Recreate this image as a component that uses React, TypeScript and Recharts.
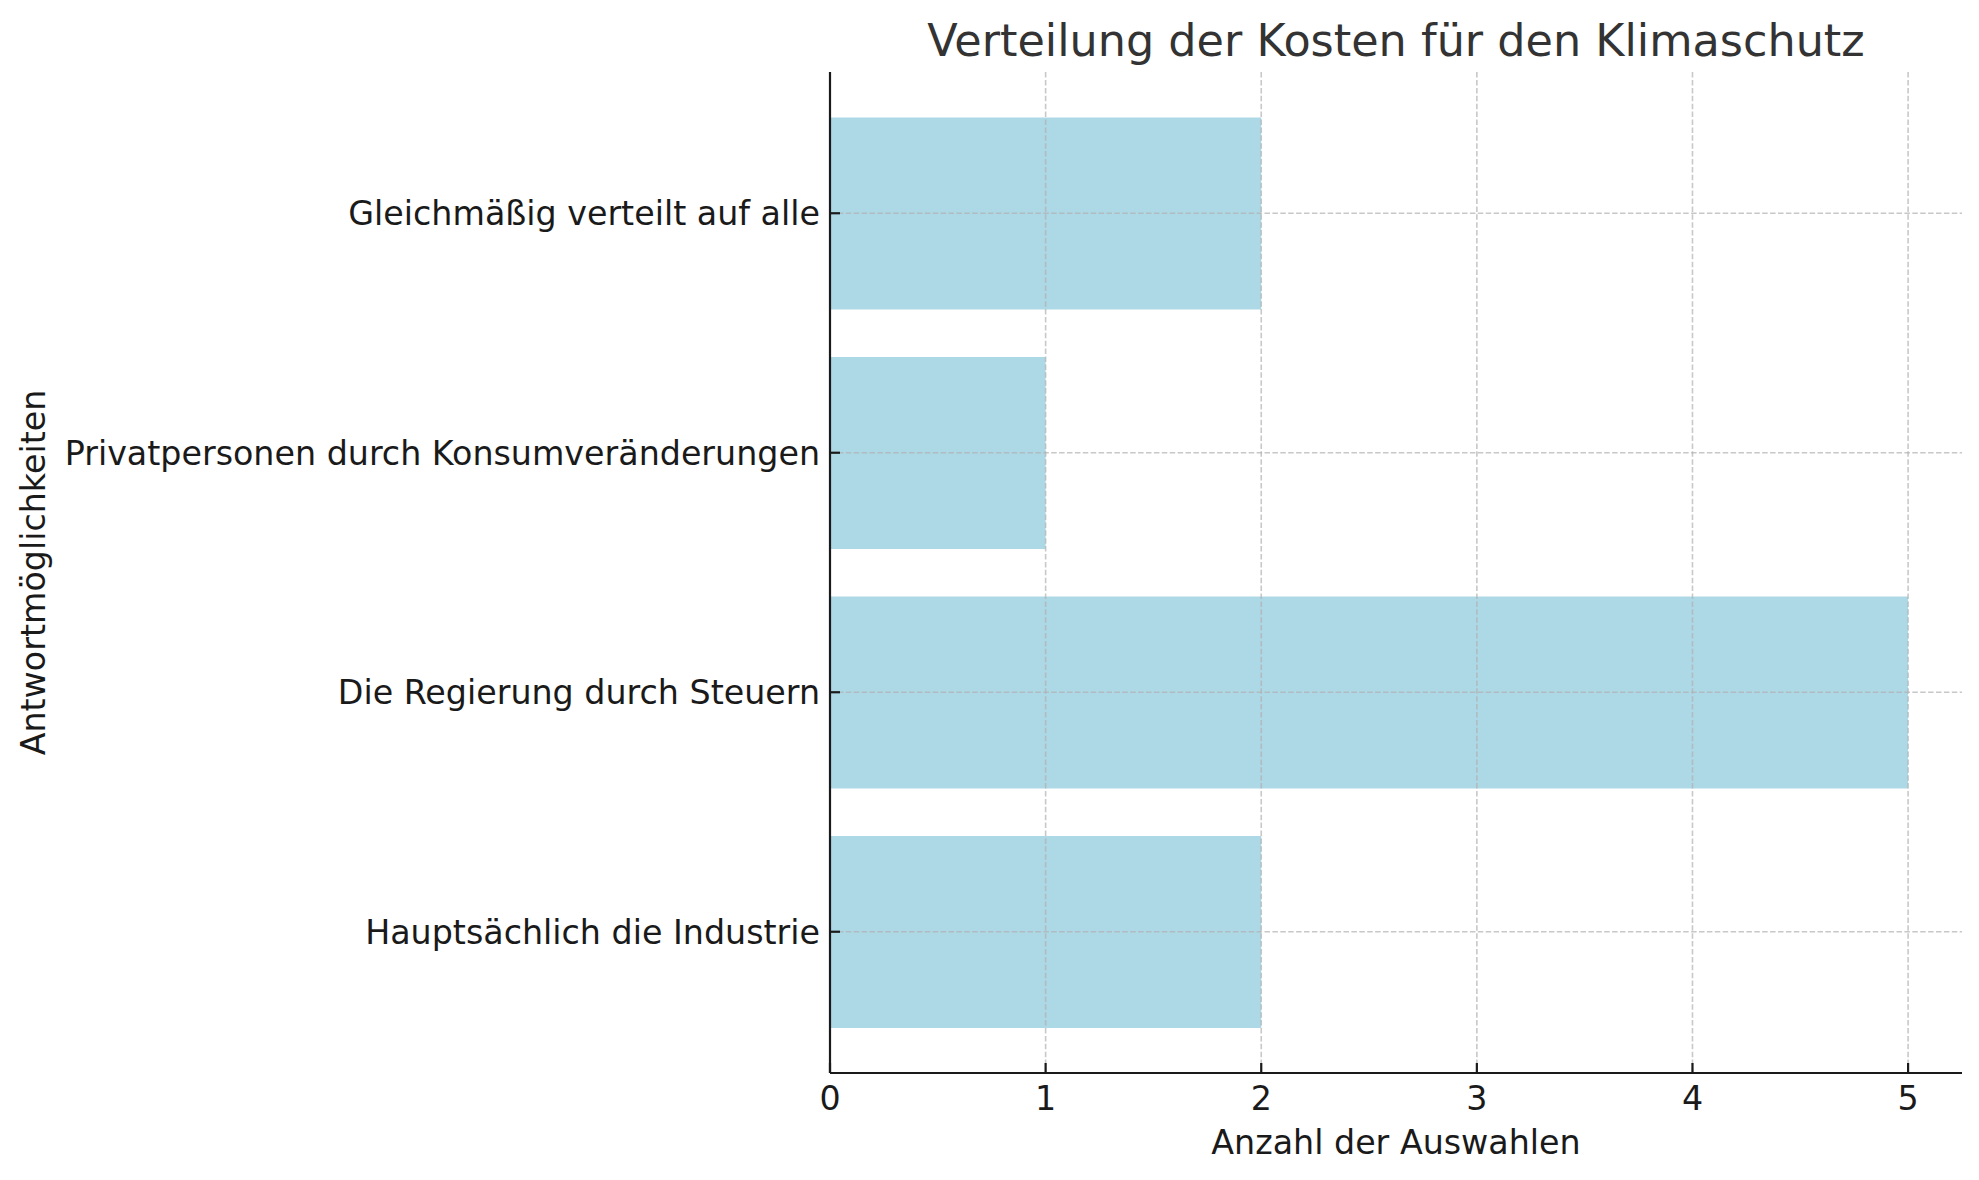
import { Bar, BarChart, Label, ReferenceLine, XAxis, YAxis } from "recharts";

const categories = [
  "Gleichmäßig verteilt auf alle",
  "Privatpersonen durch Konsumveränderungen",
  "Die Regierung durch Steuern",
  "Hauptsächlich die Industrie",
];
const counts = [2, 1, 5, 2];
const xTicks = [0, 1, 2, 3, 4, 5];
const gridX = [1, 2, 3, 4, 5];

const chartData = categories.map((name, i) => ({ name, count: counts[i] }));

const font = "DejaVu Sans";
const ink = "#1a1a1a";
const fs = 33.3;

const XTick = (props: any) => {
  const { x, y, payload } = props;
  return (
    <g>
      <line x1={x} x2={x} y1={y} y2={y - 10} stroke={ink} strokeWidth={2.2} />
      <text x={x} y={y + 37} textAnchor="middle" fontSize={fs} fontFamily={font} fill={ink}>
        {payload.value}
      </text>
    </g>
  );
};

const YTick = (props: any) => {
  const { x, y, payload } = props;
  return (
    <g>
      <line x1={x} x2={x + 10} y1={y} y2={y} stroke={ink} strokeWidth={2.2} />
      <text x={x - 10} y={y + 12} textAnchor="end" fontSize={fs} fontFamily={font} fill={ink}>
        {payload.value}
      </text>
    </g>
  );
};

const gridStyle = {
  stroke: "#b0b0b0",
  strokeOpacity: 0.7,
  strokeWidth: 1.6,
  strokeDasharray: "5.5 2.4",
};

export default function App() {
  return (
    <div style={{ position: "absolute", left: 0, top: 0, width: 1979, height: 1180, background: "#fff" }}>
      <BarChart
        width={1979}
        height={1180}
        layout="vertical"
        data={chartData}
        margin={{ top: 72, right: 17, bottom: 0, left: 0 }}
        style={{ fontFamily: font }}
      >
        <XAxis
          type="number"
          domain={[0, 5.25]}
          ticks={xTicks}
          height={107}
          allowDataOverflow
          axisLine={{ stroke: ink, strokeWidth: 2.2 }}
          tickLine={false}
          tickSize={0}
          tickMargin={0}
          tick={<XTick />}
        >
          <Label
            content={(p: any) => {
              const vb = p.viewBox;
              return (
                <text x={vb.x + vb.width / 2} y={1154} textAnchor="middle" fontSize={fs} fontFamily={font} fill={ink}>
                  Anzahl der Auswahlen
                </text>
              );
            }}
          />
        </XAxis>
        <YAxis
          type="category"
          dataKey="name"
          width={830}
          interval={0}
          padding={{ top: 21.5, bottom: 21.5 }}
          axisLine={{ stroke: ink, strokeWidth: 2.2 }}
          tickLine={false}
          tickSize={0}
          tickMargin={0}
          tick={<YTick />}
        >
          <Label
            content={(p: any) => {
              const vb = p.viewBox;
              const cy = vb.y + vb.height / 2;
              return (
                <text
                  x={44.5}
                  y={cy}
                  transform={`rotate(-90 44.5 ${cy})`}
                  textAnchor="middle"
                  fontSize={fs}
                  fontFamily={font}
                  fill={ink}
                >
                  Antwortmöglichkeiten
                </text>
              );
            }}
          />
        </YAxis>
        <Bar dataKey="count" fill="#ADD8E6" barSize={192} isAnimationActive={false} />
        {gridX.map((v) => (
          <ReferenceLine key={`gx${v}`} x={v} {...gridStyle} />
        ))}
        {categories.map((c) => (
          <ReferenceLine key={`gy${c}`} y={c} {...gridStyle} />
        ))}
      </BarChart>
      <svg width={1979} height={1180} style={{ position: "absolute", left: 0, top: 0, pointerEvents: "none" }}>
        <text x={1396} y={56} textAnchor="middle" fontSize={44.5} fontFamily={font} fill="#333333">
          Verteilung der Kosten für den Klimaschutz
        </text>
      </svg>
    </div>
  );
}
